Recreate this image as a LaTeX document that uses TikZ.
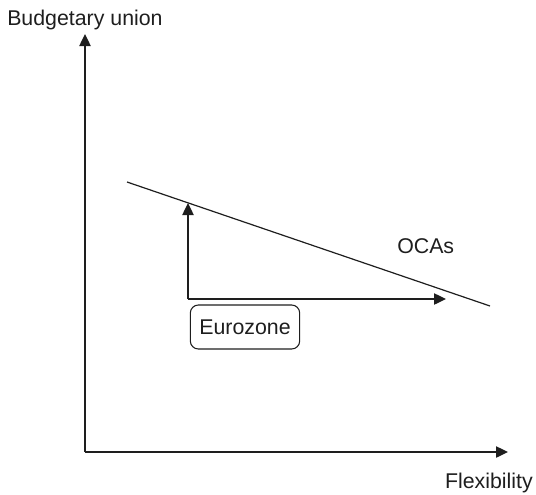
\documentclass[tikz,border=0pt]{standalone}
\usepackage{fontspec}
\setmainfont{Liberation Sans}
\usetikzlibrary{arrows.meta}
\definecolor{ink}{HTML}{1E1E1E}
\tikzset{
  axisline/.style={draw=ink, line width=1pt, -{Triangle[length=9pt,width=8.5pt]}},
  plainline/.style={draw=ink, line width=0.9pt},
  lbl/.style={inner sep=0pt, text=ink, font=\fontsize{16}{19}\selectfont},
  boxnode/.style={draw=ink, line width=0.8pt, rounded corners=6pt, minimum width=82pt, minimum height=33pt, inner sep=0pt, text=ink, font=\fontsize{16}{19}\selectfont}
}
\begin{document}
\begin{tikzpicture}[x=0.75pt,y=-0.75pt]
\useasboundingbox (0,0) rectangle (536,494);
\coordinate (origin) at (85,452);
\coordinate (ytip) at (85,34);
\coordinate (xtip) at (508,452);
\coordinate (ocaA) at (127,182);
\coordinate (ocaB) at (490,306);
\coordinate (corner) at (188,299);
\coordinate (vtip) at (188,203);
\coordinate (htip) at (446,299);
\draw[axisline] (origin) -- (ytip);
\draw[axisline] (origin) -- (xtip);
\draw[plainline] (ocaA) -- (ocaB);
\draw[axisline] (corner) -- (vtip);
\draw[axisline] (corner) -- (htip);
\node[boxnode] (euro) at (245,327) {Eurozone};
\node[lbl, anchor=base west] (ylabel) at (7,25) {Budgetary union};
\node[lbl, anchor=base east] (xlabel) at (533,488) {Flexibility};
\node[lbl, anchor=base west] (ocas) at (397,253) {OCAs};
\end{tikzpicture}
\end{document}
